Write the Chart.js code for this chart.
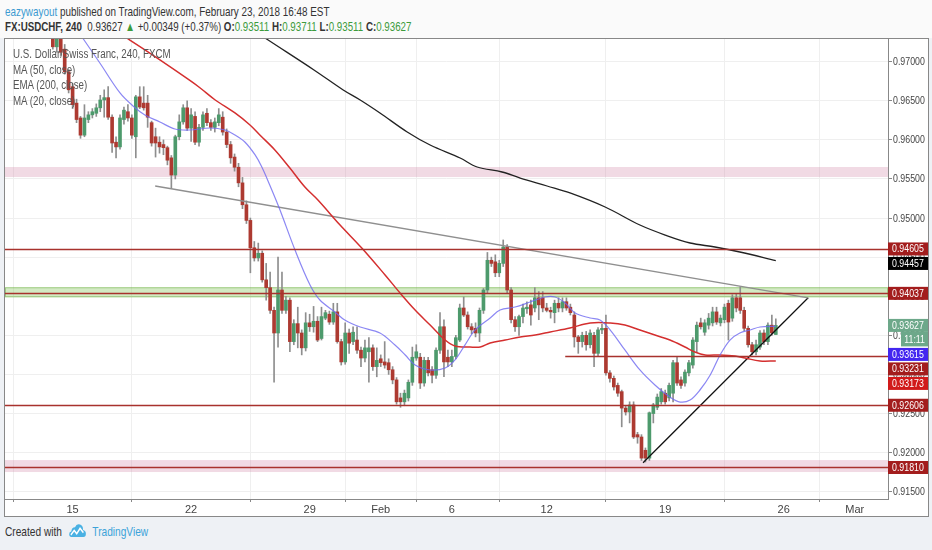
<!DOCTYPE html>
<html>
<head>
<meta charset="utf-8">
<script src="https://cdn.jsdelivr.net/npm/chart.js@4.4.1/dist/chart.umd.min.js"></script>
<style>
  body { margin: 0; width: 932px; height: 550px; overflow: hidden; position: relative;
         background: #eef1f5; font-family: 'Liberation Sans', Arial, sans-serif; }
  #header { position: absolute; left: 0; top: 0; width: 932px; height: 38px; background: #fafafa; }
  .hl { position: absolute; left: 5px; font-size: 13px; color: #333; white-space: nowrap;
        transform-origin: 0 50%; }
  .user { color: #3d9ad1; }
  .up { color: #3c9b3c; }
  b { font-weight: 600; }
  #frame { position: absolute; left: 4px; top: 38px; width: 925px; height: 479px; border: 1px solid #888;
           box-sizing: border-box; background: #fff; }
  #chart { position: absolute; left: 0; top: 0; }
  #legend { position: absolute; left: 8px; top: 8px; font-size: 12.5px; color: #555; line-height: 15.6px;
            transform: scaleX(0.78); transform-origin: 0 0; white-space: nowrap; }
  #footer { position: absolute; left: 5px; top: 524px; font-size: 13px; color: #333; white-space: nowrap;
            transform: scaleX(0.78); transform-origin: 0 50%; }
  #footer svg { vertical-align: middle; margin: 0 7px 0 8px; position: relative; top: -2px; }
  #footer .tv { color: #3ba3d9; }
</style>
</head>
<body>
<div id="header">
  <div class="hl" style="top:4px; transform:scaleX(0.76)"><span class="user">eazywayout</span> published on TradingView.com, February 23, 2018 16:48 EST</div>
  <div class="hl" style="top:19px; transform:scaleX(0.75)"><b>FX:USDCHF, 240</b>&nbsp; 0.93627 <span class="up">&#9650;</span> +0.00349 (+0.37%) <b>O:</b><span class="up">0.93511</span> <b>H:</b><span class="up">0.93711</span> <b>L:</b><span class="up">0.93511</span> <b>C:</b><span class="up">0.93627</span></div>
</div>
<div id="frame">
  <canvas id="chart" width="923" height="477"></canvas>
  <div id="legend">
    <div>U.S. Dollar/Swiss Franc, 240, FXCM</div>
    <div>MA (50, close)</div>
    <div>EMA (200, close)</div>
    <div>MA (20, close)</div>
  </div>
</div>
<div id="footer">Created with<svg width="24" height="15" viewBox="0 0 20 14"><path d="M2 13 Q0 13 0 10.5 Q0 8 2.5 8 Q3 4 7 4 Q9 0 13 1.5 Q17 3 16.5 6.5 Q20 7 20 10 Q20 13 17 13 Z" fill="#4ab1e3"/><polyline points="2,11 6,7 9,10 13,5 17,9" fill="none" stroke="#fff" stroke-width="1.6"/></svg><span class="tv">TradingView</span></div>

<script>
// 4h candles, x = candle index (0 = first candle of Jan 15)
const firstCandle = -5;
const opens = [
  0.9735, 0.9719, 0.9733, 0.9716, 0.9687, 0.9668, 0.9647, 0.9628, 0.9606, 0.9626,
  0.9632, 0.9634, 0.9641, 0.9651, 0.9654, 0.9629, 0.9597, 0.9591, 0.9626, 0.9636,
  0.9628, 0.9604, 0.9655, 0.9647, 0.9647, 0.9622, 0.9604, 0.9597, 0.9594, 0.9590,
  0.9577, 0.9555, 0.9604, 0.9623, 0.9641, 0.9615, 0.9630, 0.9597, 0.9616, 0.9634,
  0.9622, 0.9616, 0.9622, 0.9629, 0.9610, 0.9594, 0.9578, 0.9565, 0.9545, 0.9517,
  0.9497, 0.9462, 0.9449, 0.9455, 0.9421, 0.9411, 0.9382, 0.9353, 0.9408, 0.9382,
  0.9395, 0.9342, 0.9365, 0.9353, 0.9334, 0.9366, 0.9361, 0.9368, 0.9346, 0.9372,
  0.9377, 0.9367, 0.9380, 0.9342, 0.9316, 0.9353, 0.9342, 0.9344, 0.9331, 0.9321,
  0.9329, 0.9334, 0.9310, 0.9320, 0.9316, 0.9315, 0.9306, 0.9293, 0.9270, 0.9265,
  0.9270, 0.9290, 0.9321, 0.9322, 0.9289, 0.9318, 0.9306, 0.9299, 0.9331, 0.9361,
  0.9322, 0.9316, 0.9323, 0.9344, 0.9385, 0.9376, 0.9361, 0.9359, 0.9353, 0.9382,
  0.9408, 0.9446, 0.9444, 0.9430, 0.9442, 0.9463, 0.9408, 0.9370, 0.9361, 0.9374,
  0.9384, 0.9389, 0.9385, 0.9398, 0.9398, 0.9385, 0.9382, 0.9379, 0.9391, 0.9385,
  0.9393, 0.9386, 0.9376, 0.9348, 0.9342, 0.9350, 0.9338, 0.9350, 0.9327, 0.9357,
  0.9359, 0.9302, 0.9295, 0.9286, 0.9278, 0.9257, 0.9252, 0.9261, 0.9223, 0.9220,
  0.9203, 0.9193, 0.9250, 0.9258, 0.9265, 0.9276, 0.9270, 0.9276, 0.9315, 0.9293,
  0.9289, 0.9302, 0.9312, 0.9342, 0.9366, 0.9354, 0.9363, 0.9366, 0.9380, 0.9366,
  0.9370, 0.9391, 0.9372, 0.9398, 0.9398, 0.9382, 0.9359, 0.9338, 0.9329, 0.9335,
  0.9353, 0.9342, 0.9363, 0.93511
];
const highs = [
  0.9742, 0.9736, 0.9740, 0.9722, 0.9690, 0.9672, 0.9652, 0.9630, 0.9645, 0.9636,
  0.9640, 0.9646, 0.9657, 0.9664, 0.9668, 0.9632, 0.9604, 0.9632, 0.9642, 0.9645,
  0.9632, 0.9657, 0.9668, 0.9668, 0.9657, 0.9624, 0.9615, 0.9604, 0.9600, 0.9592,
  0.9580, 0.9606, 0.9632, 0.9645, 0.9650, 0.9640, 0.9636, 0.9620, 0.9636, 0.9640,
  0.9626, 0.9628, 0.9640, 0.9636, 0.9614, 0.9598, 0.9582, 0.9570, 0.9552, 0.9522,
  0.9500, 0.9470, 0.9468, 0.9458, 0.9442, 0.9431, 0.9386, 0.9450, 0.9431, 0.9400,
  0.9398, 0.9370, 0.9386, 0.9357, 0.9379, 0.9377, 0.9387, 0.9374, 0.9386, 0.9382,
  0.9381, 0.9391, 0.9391, 0.9345, 0.9366, 0.9358, 0.9361, 0.9361, 0.9335, 0.9344,
  0.9347, 0.9338, 0.9334, 0.9325, 0.9342, 0.9320, 0.9310, 0.9296, 0.9276, 0.9280,
  0.9293, 0.9335, 0.9338, 0.9327, 0.9322, 0.9322, 0.9310, 0.9334, 0.9379, 0.9370,
  0.9331, 0.9331, 0.9350, 0.9390, 0.9399, 0.9380, 0.9365, 0.9366, 0.9385, 0.9410,
  0.9456, 0.9450, 0.9453, 0.9446, 0.9472, 0.9466, 0.9411, 0.9374, 0.9376, 0.9390,
  0.9393, 0.9395, 0.9411, 0.9406, 0.9406, 0.9391, 0.9386, 0.9395, 0.9398, 0.9398,
  0.9398, 0.9390, 0.9380, 0.9350, 0.9354, 0.9355, 0.9357, 0.9354, 0.9360, 0.9364,
  0.9376, 0.9305, 0.9298, 0.9289, 0.9280, 0.9260, 0.9265, 0.9265, 0.9226, 0.9223,
  0.9206, 0.9252, 0.9263, 0.9275, 0.9282, 0.9280, 0.9289, 0.9318, 0.9322, 0.9297,
  0.9306, 0.9318, 0.9347, 0.9367, 0.9372, 0.9370, 0.9378, 0.9386, 0.9386, 0.9376,
  0.9390, 0.9395, 0.9402, 0.9403, 0.9412, 0.9386, 0.9362, 0.9341, 0.9344, 0.9356,
  0.9357, 0.9366, 0.9376, 0.93711
];
const lows = [
  0.9716, 0.9712, 0.9708, 0.9684, 0.9660, 0.9640, 0.9622, 0.9602, 0.9604, 0.9622,
  0.9628, 0.9630, 0.9636, 0.9629, 0.9626, 0.9584, 0.9577, 0.9588, 0.9620, 0.9624,
  0.9602, 0.9577, 0.9640, 0.9638, 0.9616, 0.9592, 0.9578, 0.9583, 0.9581, 0.9568,
  0.9538, 0.9550, 0.9600, 0.9620, 0.9612, 0.9598, 0.9594, 0.9592, 0.9612, 0.9618,
  0.9612, 0.9610, 0.9618, 0.9606, 0.9590, 0.9570, 0.9560, 0.9540, 0.9512, 0.9493,
  0.9430, 0.9445, 0.9445, 0.9418, 0.9395, 0.9378, 0.9290, 0.9335, 0.9378, 0.9378,
  0.9329, 0.9338, 0.9334, 0.9325, 0.9330, 0.9355, 0.9354, 0.9342, 0.9344, 0.9370,
  0.9364, 0.9364, 0.9340, 0.9312, 0.9313, 0.9327, 0.9338, 0.9327, 0.9310, 0.9316,
  0.9290, 0.9305, 0.9297, 0.9310, 0.9308, 0.9300, 0.9288, 0.9262, 0.9258, 0.9260,
  0.9266, 0.9286, 0.9318, 0.9282, 0.9285, 0.9298, 0.9289, 0.9295, 0.9327, 0.9297,
  0.9310, 0.9310, 0.9320, 0.9342, 0.9374, 0.9358, 0.9352, 0.9348, 0.9342, 0.9378,
  0.9404, 0.9438, 0.9425, 0.9425, 0.9438, 0.9404, 0.9366, 0.9355, 0.9350, 0.9366,
  0.9378, 0.9363, 0.9380, 0.9370, 0.9380, 0.9380, 0.9372, 0.9366, 0.9380, 0.9380,
  0.9382, 0.9376, 0.9335, 0.9327, 0.9335, 0.9331, 0.9334, 0.9310, 0.9324, 0.9352,
  0.9299, 0.9290, 0.9280, 0.9272, 0.9233, 0.9248, 0.9238, 0.9218, 0.9212, 0.9190,
  0.9188, 0.9190, 0.9238, 0.9255, 0.9262, 0.9262, 0.9266, 0.9265, 0.9286, 0.9282,
  0.9285, 0.9298, 0.9308, 0.9329, 0.9358, 0.9350, 0.9358, 0.9362, 0.9364, 0.9362,
  0.9366, 0.9344, 0.9368, 0.9380, 0.9378, 0.9356, 0.9335, 0.9325, 0.9325, 0.9332,
  0.9338, 0.9338, 0.9350, 0.93511
];
const closes = [
  0.9719, 0.9733, 0.9712, 0.9687, 0.9664, 0.9645, 0.9626, 0.9606, 0.9628, 0.9632,
  0.9636, 0.9641, 0.9651, 0.9654, 0.9629, 0.9596, 0.9591, 0.9628, 0.9638, 0.9628,
  0.9606, 0.9655, 0.9642, 0.9641, 0.9629, 0.9596, 0.9596, 0.9591, 0.9590, 0.9574,
  0.9555, 0.9604, 0.9623, 0.9641, 0.9615, 0.9632, 0.9597, 0.9616, 0.9632, 0.9622,
  0.9616, 0.9623, 0.9632, 0.9610, 0.9594, 0.9577, 0.9565, 0.9545, 0.9517, 0.9497,
  0.9462, 0.9449, 0.9455, 0.9421, 0.9411, 0.9382, 0.9353, 0.9408, 0.9382, 0.9395,
  0.9342, 0.9365, 0.9353, 0.9334, 0.9366, 0.9361, 0.9368, 0.9344, 0.9374, 0.9379,
  0.9367, 0.9380, 0.9342, 0.9316, 0.9353, 0.9340, 0.9354, 0.9331, 0.9321, 0.9334,
  0.9334, 0.9310, 0.9318, 0.9315, 0.9312, 0.9306, 0.9293, 0.9265, 0.9265, 0.9276,
  0.9290, 0.9322, 0.9329, 0.9289, 0.9318, 0.9302, 0.9299, 0.9331, 0.9361, 0.9316,
  0.9316, 0.9323, 0.9347, 0.9385, 0.9376, 0.9361, 0.9357, 0.9353, 0.9382, 0.9408,
  0.9446, 0.9442, 0.9430, 0.9442, 0.9463, 0.9408, 0.9370, 0.9361, 0.9374, 0.9385,
  0.9386, 0.9376, 0.9398, 0.9389, 0.9385, 0.9382, 0.9380, 0.9391, 0.9385, 0.9393,
  0.9385, 0.9379, 0.9348, 0.9342, 0.9350, 0.9338, 0.9353, 0.9327, 0.9357, 0.9359,
  0.9302, 0.9295, 0.9284, 0.9276, 0.9257, 0.9252, 0.9261, 0.9220, 0.9220, 0.9193,
  0.9193, 0.9251, 0.9261, 0.9271, 0.9278, 0.9265, 0.9286, 0.9315, 0.9289, 0.9286,
  0.9303, 0.9315, 0.9344, 0.9363, 0.9361, 0.9366, 0.9372, 0.9380, 0.9367, 0.9372,
  0.9386, 0.9367, 0.9398, 0.9385, 0.9382, 0.9359, 0.9338, 0.9329, 0.9338, 0.9353,
  0.9342, 0.9363, 0.9353, 0.93627
];

// moving averages: [candle index, price]
const ma20 = [
  [-0.7, 0.97546], [2.9, 0.97277], [6.9, 0.96983], [12.0, 0.96600], [15.3, 0.96433],
  [18.3, 0.96318], [22.1, 0.96229], [25.9, 0.96139], [29.7, 0.96126], [34.8, 0.96152],
  [38.6, 0.96126], [41.1, 0.96062], [43.6, 0.95973], [46.2, 0.95807], [47.9, 0.95653],
  [49.9, 0.95423], [52.5, 0.95103], [56.3, 0.94591], [60.1, 0.94144], [62.6, 0.93952],
  [66.4, 0.93799], [68.9, 0.93696], [72.8, 0.93607], [77.8, 0.93530], [81.6, 0.93376],
  [84.2, 0.93249], [86.7, 0.93121], [90.5, 0.93057], [94.3, 0.93082], [96.8, 0.93185],
  [99.3, 0.93376], [101.9, 0.93569], [105.7, 0.93722], [108.2, 0.93824], [112.0, 0.93862],
  [115.8, 0.93926], [119.6, 0.93990], [122.1, 0.93990], [124.7, 0.93914], [127.2, 0.93786],
  [131.0, 0.93722], [133.5, 0.93696], [136.1, 0.93568], [139.8, 0.93313], [143.6, 0.93057],
  [147.4, 0.92865], [151.2, 0.92711], [153.8, 0.92647], [156.3, 0.92673], [158.8, 0.92801],
  [161.4, 0.92993], [163.9, 0.93249], [166.4, 0.93440], [168.9, 0.93530], [171.5, 0.93568],
  [174.0, 0.93607], [178, 0.93615]
];
const ma50 = [
  [9.5, 0.97444], [14.5, 0.97277], [22.1, 0.97022], [29.5, 0.96766], [32.3, 0.96663],
  [36.1, 0.96510], [41.1, 0.96344], [44.9, 0.96190], [47.4, 0.96062], [51.2, 0.95871],
  [55.0, 0.95640], [58.8, 0.95397], [62.1, 0.95231], [67.7, 0.94911], [73.2, 0.94617],
  [79.1, 0.94272], [82.9, 0.94041], [86.7, 0.93824], [90.5, 0.93632], [94.3, 0.93440],
  [96.8, 0.93364], [100.6, 0.93351], [103.2, 0.93351], [105.7, 0.93402], [109.5, 0.93440],
  [113.3, 0.93479], [117.1, 0.93504], [120.9, 0.93543], [125.9, 0.93594], [131.0, 0.93658],
  [136.1, 0.93658], [139.8, 0.93632], [143.6, 0.93568], [147.4, 0.93504], [151.2, 0.93440],
  [155.0, 0.93351], [157.5, 0.93287], [160.1, 0.93249], [163.9, 0.93249], [167.7, 0.93236],
  [170.2, 0.93210], [174.0, 0.93172], [178, 0.93173]
];
const ema200 = [
  [44.9, 0.97431], [49.5, 0.97277], [61.1, 0.96894], [68.5, 0.96638], [72.8, 0.96510],
  [77.8, 0.96344], [84.7, 0.96101], [90.5, 0.95934], [98.1, 0.95768], [102.4, 0.95653],
  [108.7, 0.95589], [113.3, 0.95512], [120.1, 0.95410], [125.9, 0.95321], [134.8, 0.95141],
  [143.6, 0.94911], [150.0, 0.94783], [156.3, 0.94681], [162.6, 0.94630], [168.9, 0.94566],
  [178, 0.94457]
];

// drawings
const resistLine = [[20.9, 0.9541], [186.2, 0.9398]];
const supportLine = [[144.4, 0.9187], [186.2, 0.9398]];
const zoneLow = [0.95525, 0.93987, 0.91752];
const zoneHigh = [0.95653, 0.94115, 0.91905];
const levelValues = [0.94605, 0.94037, 0.93231, 0.92606, 0.91810];
const levelFrom = [-18, -18, 124.7, -18, -18];

// axes
const xTickIdx = [0, 30, 60, 78, 96, 120, 150, 180, 198];
const xTickLabels = ['15', '22', '29', 'Feb', '6', '12', '19', '26', 'Mar'];
const yTicks = [0.915, 0.920, 0.925, 0.930, 0.935, 0.940, 0.945, 0.950, 0.955, 0.960, 0.965, 0.970];

// price tags on the right axis
const priceTags = [0.94605, 0.94457, 0.94037, 0.93627, 0.93615, 0.93231, 0.93173, 0.92606, 0.91810];
const countdown = '11:11';

const FONT = "'Liberation Sans', Arial, sans-serif";
const NARROW = 0.8;   // the screenshot's text is horizontally condensed
const UP = '#4d9a6c', DOWN = '#ad3a31', WICK = '#8e8e8e';
const tagColors = ['#a31d1d', '#000000', '#a31d1d', '#6da88a', '#4326f0', '#a31d1d', '#d11a1a', '#a31d1d', '#a31d1d'];
const zoneFill = ['rgba(214,150,178,0.35)', 'rgba(140,200,100,0.38)', 'rgba(214,150,178,0.35)'];
const zoneEdge = [null, 'rgba(120,180,80,0.6)', null];
const levelColor = '#a8322d';

const idx = opens.map((o, i) => firstCandle + i);
const toXY = pts => pts.map(p => ({ x: p[0], y: p[1] }));

function narrowText(ctx, text, x, y, align) {
    ctx.save();
    ctx.translate(x, y);
    ctx.scale(NARROW, 1);
    ctx.textAlign = align;
    ctx.fillText(text, 0, 0);
    ctx.restore();
}

const drawings = {
    id: 'drawings',
    beforeDatasetsDraw(chart) {
        const { ctx, chartArea: a, scales: { y } } = chart;
        ctx.save();
        zoneLow.forEach((lo, i) => {
            const top = y.getPixelForValue(zoneHigh[i]);
            const bot = y.getPixelForValue(lo);
            ctx.fillStyle = zoneFill[i];
            ctx.fillRect(a.left, top, a.right - a.left, bot - top);
            if (zoneEdge[i]) {
                ctx.strokeStyle = zoneEdge[i];
                ctx.lineWidth = 1;
                ctx.strokeRect(a.left + 0.5, top + 0.5, a.right - a.left - 1, bot - top - 1);
            }
        });
        ctx.restore();
    },
    afterDatasetsDraw(chart) {
        const { ctx, chartArea: a, scales: { x, y } } = chart;
        ctx.save();
        ctx.strokeStyle = levelColor;
        ctx.lineWidth = 1.5;
        levelValues.forEach((v, i) => {
            const py = Math.round(y.getPixelForValue(v)) + 0.5;
            ctx.beginPath();
            ctx.moveTo(Math.max(a.left, x.getPixelForValue(levelFrom[i])), py);
            ctx.lineTo(a.right, py);
            ctx.stroke();
        });
        ctx.restore();
    },
    afterDraw(chart) {
        const { ctx, chartArea: a, scales: { y } } = chart;
        const left = a.right, w = chart.width - left;
        const h = 13, step = 14.5;
        ctx.save();
        ctx.font = '11px ' + FONT;
        ctx.textBaseline = 'middle';

        // y tick labels (condensed like the screenshot)
        ctx.fillStyle = '#444';
        y.ticks.forEach(t => narrowText(ctx, t.value.toFixed(5), left + 5, y.getPixelForValue(t.value) + 0.5, 'left'));

        // price tags, stacked downwards so they never overlap
        let prev = -Infinity;
        priceTags.forEach((v, i) => {
            const cy = Math.max(y.getPixelForValue(v), prev + step);
            ctx.fillStyle = tagColors[i];
            ctx.fillRect(left, cy - h / 2, w, h);
            ctx.fillStyle = '#fff';
            narrowText(ctx, v.toFixed(5), left + 4, cy + 0.5, 'left');
            prev = cy;
            if (v === closes[closes.length - 1]) {
                const cy2 = prev + step;
                ctx.fillStyle = tagColors[i];
                ctx.fillRect(left + 13, cy - h / 2 + h, w - 13, step);
                ctx.fillStyle = '#fff';
                narrowText(ctx, countdown, left + w - 3, cy2 + 0.5, 'right');
                prev = cy2;
            }
        });
        ctx.restore();
    }
};

Chart.defaults.font.family = FONT;
Chart.defaults.font.size = 11;
Chart.defaults.color = '#444';

new Chart(document.getElementById('chart').getContext('2d'), {
    type: 'bar',
    data: {
        datasets: [
            {
                type: 'line', data: toXY(ma20), borderColor: 'rgba(110,105,240,0.8)', borderWidth: 1.2,
                pointRadius: 0, tension: 0.35, order: 0
            },
            {
                type: 'line', data: toXY(ma50), borderColor: '#d42f2f', borderWidth: 1.5,
                pointRadius: 0, tension: 0.35, order: 0
            },
            {
                type: 'line', data: toXY(ema200), borderColor: '#222', borderWidth: 1.3,
                pointRadius: 0, tension: 0.35, order: 0
            },
            {
                type: 'line', data: toXY(resistLine), borderColor: '#8f8f8f', borderWidth: 1.3,
                pointRadius: 0, order: 0
            },
            {
                type: 'line', data: toXY(supportLine), borderColor: '#111', borderWidth: 1.3,
                pointRadius: 0, order: 0
            },
            {
                // candle bodies
                data: idx.map((x, i) => ({ x, y: [opens[i], closes[i]] })),
                backgroundColor: closes.map((c, i) => c >= opens[i] ? UP : DOWN),
                barThickness: 3, minBarLength: 1, grouped: false, order: 1
            },
            {
                // wicks
                data: idx.map((x, i) => ({ x, y: [lows[i], highs[i]] })),
                backgroundColor: WICK,
                barThickness: 1, grouped: false, order: 2
            }
        ]
    },
    options: {
        responsive: false,
        animation: false,
        events: [],
        layout: { padding: 0 },
        plugins: { legend: { display: false }, tooltip: { enabled: false } },
        scales: {
            x: {
                type: 'linear',
                min: -17.11,
                max: 206.4,
                offset: false,
                afterBuildTicks: s => { s.ticks = xTickIdx.map(v => ({ value: v })); },
                afterFit: s => { s.height = 17; s.paddingLeft = 0; s.paddingRight = 0; },
                ticks: {
                    autoSkip: false, maxRotation: 0, padding: 1, color: '#444',
                    callback: (v, i) => xTickLabels[i]
                },
                grid: { color: '#efefef', tickColor: '#888', tickLength: 3 },
                border: { display: true, color: '#888' }
            },
            y: {
                position: 'right',
                min: 0.91407,
                max: 0.97290,
                afterBuildTicks: s => { s.ticks = yTicks.map(v => ({ value: v })); },
                afterFit: s => { s.width = 40; s.paddingTop = 0; s.paddingBottom = 0; },
                ticks: { display: false },
                grid: { color: '#efefef', tickColor: '#888', tickLength: 4 },
                border: { display: true, color: '#888' }
            }
        }
    },
    plugins: [drawings]
});
</script>
</body>
</html>
